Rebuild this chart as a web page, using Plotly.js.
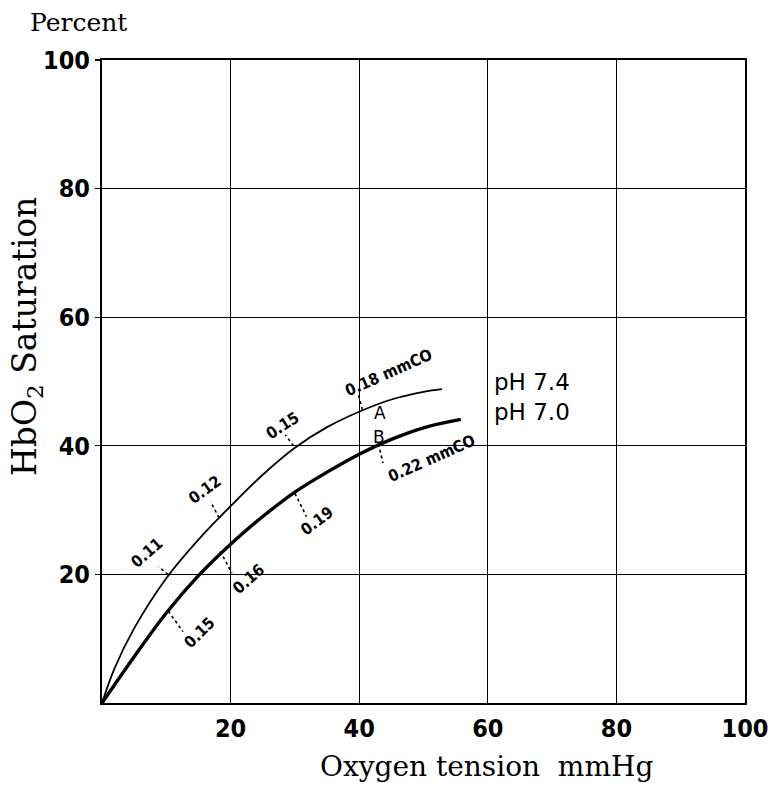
<!DOCTYPE html>
<html>
<head>
<meta charset="utf-8">
<script src="https://cdn.plot.ly/plotly-3.0.1.min.js"></script>
<style>html,body{margin:0;padding:0;background:#fff;}</style>
</head>
<body>
<div id="chart" style="width:781px;height:795px;"></div>
<script>
// Oxygen tension (mmHg) and HbO2 saturation (%)
const ph74X = [0, 2, 5, 10, 15, 20, 25, 30, 35, 40, 45, 50, 52.9];
const ph74Y = [0, 5.5, 11.6, 19.4, 25.4, 30.6, 35.5, 39.7, 42.9, 45.3, 47.2, 48.4, 48.8];
const ph70X = [0, 5, 10, 15, 20, 25, 30, 35, 40, 45, 50, 55.8];
const ph70Y = [0, 7.2, 14.0, 19.8, 24.7, 29.0, 32.8, 35.9, 38.7, 41.0, 42.8, 44.1];

// CO point labels: text, label position, rotation, curve point, leader end
const coText   = ['0.11', '0.12', '0.15', '0.15', '0.16', '0.19'];
const coLabelX = [7.0, 16.0, 28.1, 15.2, 22.9, 33.5];
const coLabelY = [23.4, 33.2, 43.1, 10.9, 19.3, 28.4];
const coAngle  = [-41, -36, -33, -45, -41, -37];
const coPtX    = [10.3, 18.2, 29.8, 10.3, 18.4, 30.0];
const coPtY    = [20.0, 28.8, 40.0, 14.3, 23.6, 32.6];
const coEndX   = [8.8, 16.9, 28.5, 12.6, 20.2, 31.8];
const coEndY   = [21.2, 31.3, 41.7, 11.1, 20.2, 29.0];

const mmText   = ['0.18 mmCO', '0.22 mmCO'];
const mmX      = [44.6, 51.2];
const mmY      = [51.4, 38.0];
const mmAngle  = [-24, -24];
const mmPtX    = [40.5, 43.0];
const mmPtY    = [45.6, 40.3];
const mmEndX   = [39.9, 43.7];
const mmEndY   = [47.9, 37.3];

const pointText = ['A', 'B'];
const pointX = [43.3, 43.1];
const pointY = [45.1, 41.4];

const phText = ['pH 7.4', 'pH 7.0'];
const phX = [66.8, 66.8];
const phY = [49.9, 45.2];

const tickVals = [20, 40, 60, 80, 100];
const tickText = ['20', '40', '60', '80', '100'];

const traces = [
  {x: ph74X, y: ph74Y, mode: 'lines', line: {color: 'black', width: 1.8, shape: 'spline', smoothing: 1}, hoverinfo: 'skip'},
  {x: ph70X, y: ph70Y, mode: 'lines', line: {color: 'black', width: 3.4, shape: 'spline', smoothing: 1}, hoverinfo: 'skip'}
];
for (let i = 0; i < coText.length; i++) {
  traces.push({x: [coPtX[i], coEndX[i]], y: [coPtY[i], coEndY[i]], mode: 'lines',
    line: {color: 'black', width: 1.6, dash: 'dot'}, hoverinfo: 'skip'});
}
for (let i = 0; i < mmText.length; i++) {
  traces.push({x: [mmPtX[i], mmEndX[i]], y: [mmPtY[i], mmEndY[i]], mode: 'lines',
    line: {color: 'black', width: 1.6, dash: 'dot'}, hoverinfo: 'skip'});
}

const lblFont = {family: 'DejaVu Sans Condensed', size: 16, color: 'black', weight: 'bold'};
const annotations = [];
for (let i = 0; i < coText.length; i++) {
  annotations.push({x: coLabelX[i], y: coLabelY[i], xref: 'x', yref: 'y', text: coText[i],
    showarrow: false, textangle: coAngle[i], font: lblFont});
}
for (let i = 0; i < mmText.length; i++) {
  annotations.push({x: mmX[i], y: mmY[i], xref: 'x', yref: 'y', text: mmText[i],
    showarrow: false, textangle: mmAngle[i], font: lblFont});
}
for (let i = 0; i < pointText.length; i++) {
  annotations.push({x: pointX[i], y: pointY[i], xref: 'x', yref: 'y', text: pointText[i],
    showarrow: false, font: {family: 'DejaVu Sans', size: 17, color: 'black'}});
}
for (let i = 0; i < phText.length; i++) {
  annotations.push({x: phX[i], y: phY[i], xref: 'x', yref: 'y', text: phText[i],
    showarrow: false, font: {family: 'DejaVu Sans', size: 23, color: 'black'}});
}
annotations.push({x: 78, y: 22, xref: 'paper', yref: 'paper', text: 'Percent', showarrow: false,
  font: {family: 'DejaVu Serif', size: 25, color: 'black'}});
annotations.push({x: 26, y: 337, xref: 'paper', yref: 'paper', text: 'HbO<sub>2</sub> Saturation', showarrow: false,
  textangle: -90, font: {family: 'DejaVu Serif', size: 33, color: 'black'}});
annotations.push({x: 486, y: 766, xref: 'paper', yref: 'paper', text: 'Oxygen tension  mmHg', showarrow: false,
  font: {family: 'DejaVu Serif', size: 28, color: 'black'}});

// convert pixel positions for paper annotations
const W = 781, H = 795, L = 102, R = 36, T = 60, B = 92;
annotations.forEach(a => {
  if (a.xref === 'paper') {
    a.x = (a.x - L) / (W - L - R);
    a.y = (H - B - a.y) / (H - T - B);
    a.xanchor = 'center';
    a.yanchor = 'middle';
  }
});

const tickFont = {family: 'DejaVu Sans Condensed', size: 25, color: 'black', weight: 'bold'};
const layout = {
  width: W, height: H,
  margin: {l: L, r: R, t: T, b: B},
  paper_bgcolor: 'white', plot_bgcolor: 'white',
  showlegend: false,
  xaxis: {range: [0, 100], tickvals: tickVals, ticktext: tickText, showgrid: true, gridcolor: 'black', gridwidth: 1.4,
    showline: true, linecolor: 'black', linewidth: 2, mirror: true, ticks: '', zeroline: false,
    tickfont: tickFont, ticklabelstandoff: 2, fixedrange: true},
  yaxis: {range: [0, 100], tickvals: tickVals, ticktext: tickText, showgrid: true, gridcolor: 'black', gridwidth: 1.4,
    showline: true, linecolor: 'black', linewidth: 2, mirror: true, ticks: 'outside', ticklen: 5, tickwidth: 1.4,
    tickcolor: 'black', zeroline: false,
    tickfont: tickFont, ticklabelstandoff: 0, fixedrange: true},
  annotations: annotations
};

Plotly.newPlot('chart', traces, layout, {staticPlot: true});
</script>
</body>
</html>
